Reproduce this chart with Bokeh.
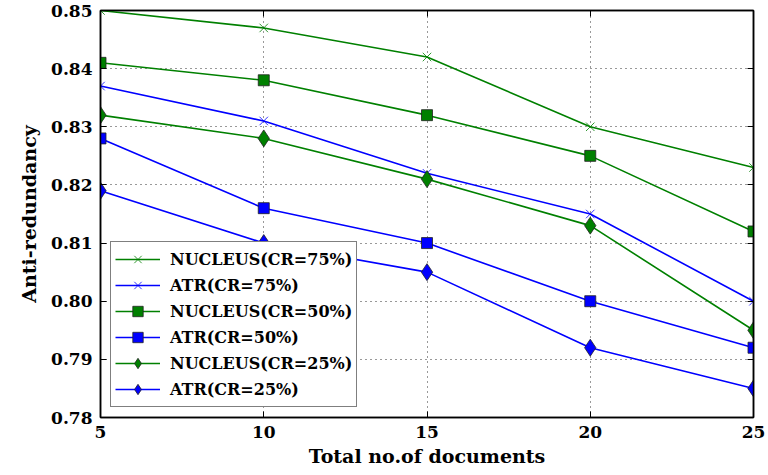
from bokeh.plotting import figure
from bokeh.models import LinearAxis, Range1d, FixedTicker, NumeralTickFormatter, Legend
from bokeh.embed import file_html
from bokeh.resources import INLINE

docs = [5, 10, 15, 20, 25]
nucleus_75 = [0.850, 0.847, 0.842, 0.830, 0.823]
atr_75 = [0.837, 0.831, 0.822, 0.815, 0.800]
nucleus_50 = [0.841, 0.838, 0.832, 0.825, 0.812]
atr_50 = [0.828, 0.816, 0.810, 0.800, 0.792]
nucleus_25 = [0.832, 0.828, 0.821, 0.813, 0.795]
atr_25 = [0.819, 0.810, 0.805, 0.792, 0.785]
y_ticks = [0.78, 0.79, 0.80, 0.81, 0.82, 0.83, 0.84, 0.85]
x_ticks = [5, 10, 15, 20, 25]

GREEN = "#008000"
BLUE = "#0000ff"
FONT = "DejaVu Serif"

p = figure(width=768, height=475, output_backend="svg", toolbar_location=None,
           x_range=Range1d(5, 25), y_range=Range1d(0.78, 0.85),
           min_border_left=100, min_border_right=15, min_border_top=10, min_border_bottom=58)
p.outline_line_color = "black"
p.outline_line_width = 1.5

series = [
    ("NUCLEUS(CR=75%)", nucleus_75, GREEN, "x", 12),
    ("ATR(CR=75%)", atr_75, BLUE, "x", 12),
    ("NUCLEUS(CR=50%)", nucleus_50, GREEN, "square", 11),
    ("ATR(CR=50%)", atr_50, BLUE, "square", 11),
    ("NUCLEUS(CR=25%)", nucleus_25, GREEN, "diamond", 17),
    ("ATR(CR=25%)", atr_25, BLUE, "diamond", 17),
]

items = []
for label, ys, col, marker, size in series:
    r1 = p.line(docs, ys, line_color=col, line_width=1.6)
    if marker == "x":
        r2 = p.scatter(docs, ys, marker="x", size=size, line_color=col, line_width=1, line_alpha=0.8)
    else:
        r2 = p.scatter(docs, ys, marker=marker, size=size, fill_color=col, line_color="#222222", line_width=0.8)
    items.append((label, [r1, r2]))

legend = Legend(items=items, location=(10, 10))
legend.label_text_font = FONT
legend.label_text_font_style = "bold"
legend.label_text_font_size = "16px"
legend.label_text_color = "black"
legend.border_line_color = "black"
legend.border_line_width = 1.2
legend.background_fill_alpha = 1
legend.glyph_width = 45
legend.glyph_height = 26
legend.label_height = 26
legend.spacing = 0
legend.padding = 4
legend.label_standoff = 10
legend.margin = 0
p.add_layout(legend, "center")

for ax in (p.xaxis[0], p.yaxis[0]):
    ax.major_label_text_font = FONT
    ax.major_label_text_font_style = "bold"
    ax.major_label_text_font_size = "17px"
    ax.axis_label_text_font = FONT
    ax.axis_label_text_font_style = "bold"
    ax.axis_label_text_font_size = "19px"
    ax.axis_label_text_color = "black"
    ax.major_tick_in = 6
    ax.major_tick_out = 0
    ax.minor_tick_in = 0
    ax.minor_tick_out = 0
    ax.axis_line_color = "black"
    ax.axis_line_width = 1.5
    ax.major_label_text_color = "black"

p.xaxis[0].ticker = FixedTicker(ticks=x_ticks)
p.yaxis[0].ticker = FixedTicker(ticks=y_ticks)
p.yaxis[0].formatter = NumeralTickFormatter(format="0.00")
p.xaxis[0].axis_label = "Total no.of documents"
p.yaxis[0].axis_label = "Anti-redundancy"
p.xaxis[0].axis_label_standoff = 4
p.yaxis[0].axis_label_standoff = 8
p.xaxis[0].major_label_standoff = 8
p.yaxis[0].major_label_standoff = 8

for loc, ticks in (("above", x_ticks), ("right", y_ticks)):
    ax = LinearAxis(ticker=FixedTicker(ticks=ticks),
                    major_label_overrides={t: "" for t in ticks},
                    major_tick_in=6, major_tick_out=0, minor_tick_in=0, minor_tick_out=0,
                    axis_line_color="black", axis_line_width=1.5, major_label_standoff=0)
    p.add_layout(ax, loc)

p.xgrid.ticker = FixedTicker(ticks=x_ticks)
p.ygrid.ticker = FixedTicker(ticks=y_ticks)
for g in (p.xgrid[0], p.ygrid[0]):
    g.grid_line_color = "black"
    g.grid_line_dash = "1 4"
    g.grid_line_width = 1
    g.grid_line_alpha = 0.8

p.background_fill_color = "white"
p.border_fill_color = "white"

open("out.html", "w").write(file_html(p, INLINE))
